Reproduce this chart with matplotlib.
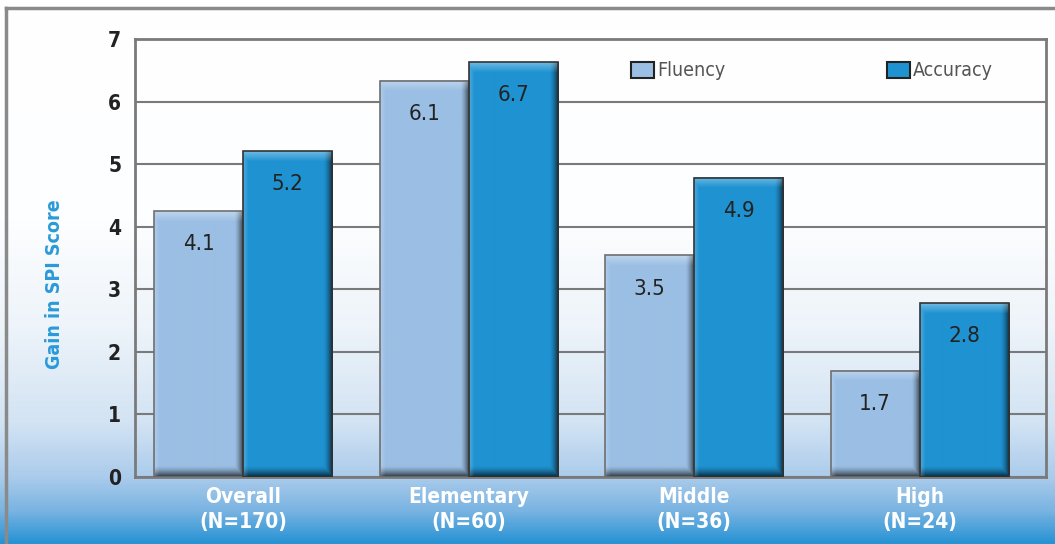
import numpy as np
import matplotlib
matplotlib.use("Agg")
import matplotlib.pyplot as plt
from matplotlib.colors import LinearSegmentedColormap, to_rgb
from matplotlib.patches import Patch
from matplotlib.lines import Line2D
from matplotlib import font_manager

# data
groups = ["Overall\n(N=170)", "Elementary\n(N=60)", "Middle\n(N=36)", "High\n(N=24)"]
fluency = [4.25, 6.33, 3.54, 1.70]        # drawn bar heights
accuracy = [5.21, 6.63, 4.78, 2.78]
fluency_labels = ["4.1", "6.1", "3.5", "1.7"]  # printed values
accuracy_labels = ["5.2", "6.7", "4.9", "2.8"]
yticks = [0, 1, 2, 3, 4, 5, 6, 7]

fl_color = "#9bbfe4"
ac_color = "#1f93d2"
grid_color = "#7a7a7a"

# condensed face
names = {f.name for f in font_manager.fontManager.ttflist}
narrow = "Liberation Sans Narrow" if "Liberation Sans Narrow" in names else "DejaVu Sans"
stretch = "condensed"

W, H, DPI = 1055, 544, 100
fig = plt.figure(figsize=(W / DPI, H / DPI), dpi=DPI)

# background gradient
bg = fig.add_axes([0, 0, 1, 1], zorder=-5)
stops = [(0.0, "#ffffff"), (0.4, "#fdfeff"), (0.6, "#eef4fa"), (0.78, "#d2e3f3"),
         (0.88, "#aacbeb"), (0.94, "#7ab4e2"), (1.0, "#2893d4")]
cmap = LinearSegmentedColormap.from_list("bg", stops)
grad = np.linspace(0, 1, 544)[:, None]
bg.imshow(grad, cmap=cmap, aspect="auto", extent=(0, 1, 0, 1), origin="upper")
bg.set_xlim(0, 1)
bg.set_ylim(0, 1)
bg.axis("off")
# outer frame (top and left)
bg.add_line(Line2D([6 / W, 6 / W], [0, 1 - 8 / H], color="#8a8a8a", lw=2.5))
bg.add_line(Line2D([6 / W, 1], [1 - 8 / H, 1 - 8 / H], color="#8a8a8a", lw=2.5))

ax = fig.add_axes([135 / W, (H - 477) / H, (1046 - 135) / W, (477 - 39) / H])
ax.patch.set_visible(False)

x = np.arange(len(groups))
bw = 0.395
ymax = 7
xlim = (-0.48, 3.56)
px_per_unit = (477 - 39) / ymax
bw_px = int(round(bw * (1046 - 135) / (xlim[1] - xlim[0])))


def shaded(color, wpx, hpx):
    base = np.array(to_rgb(color))
    xx = np.arange(wpx)[None, :]
    yy = np.arange(hpx)[:, None]
    dr = np.clip((xx - (wpx - 10)) / 10, 0, 1)
    db = np.clip((yy - (hpx - 12)) / 12, 0, 1)
    dark = np.maximum(dr, db) ** 1.5 * 0.8
    lt = np.maximum(np.clip(1 - yy / 10, 0, 1) * 0.35, np.clip(1 - xx / 5, 0, 1) * 0.2)
    img = base[None, None, :] * (1 - dark[..., None])
    img = img + (1 - img) * lt[..., None]
    return np.clip(img, 0, 1)


for vals, labs, col, off, ec in [(fluency, fluency_labels, fl_color, -bw / 2, "#6f6f6f"),
                                  (accuracy, accuracy_labels, ac_color, bw / 2, "#333333")]:
    for xi, v, lab in zip(x, vals, labs):
        x0 = xi + off - bw / 2
        hpx = max(int(round(v * px_per_unit)), 2)
        ax.imshow(shaded(col, bw_px, hpx), extent=(x0, x0 + bw, 0, v),
                  aspect="auto", zorder=3, interpolation="bilinear")
        ax.bar(xi + off, v, bw, fill=False, edgecolor=ec, lw=1.2, zorder=4)
        ax.annotate(lab, (xi + off, v), xytext=(0, -24), textcoords="offset points",
                    ha="center", va="center", fontsize=16, color="#222222",
                    family=narrow, stretch=stretch, zorder=5)

ax.set_xlim(*xlim)
ax.set_ylim(0, ymax)
ax.set_yticks(yticks)
ax.set_xticks(x)
ax.set_xticklabels(groups, color="white", fontsize=15, fontweight="bold",
                   family=narrow, stretch=stretch, linespacing=1.35)
for t in ax.get_yticklabels():
    t.set_fontsize(15)
    t.set_fontweight("bold")
    t.set_family(narrow)
    t.set_stretch(stretch)
    t.set_color("#222222")
ax.tick_params(axis="both", length=0)
ax.tick_params(axis="y", pad=10)
ax.tick_params(axis="x", pad=7)
ax.grid(axis="y", color=grid_color, lw=1.5, zorder=1)
ax.set_axisbelow(True)
for s in ax.spines.values():
    s.set_color(grid_color)
    s.set_linewidth(2)

fig.text(55 / W, 1 - 284 / H, "Gain in SPI Score", rotation=90, ha="center", va="center",
         color="#2a9ad8", fontsize=14, fontweight="bold", family=narrow, stretch=stretch)

handles = [Patch(facecolor=fl_color, edgecolor="#222222", lw=1.5, label="Fluency"),
           Patch(facecolor=ac_color, edgecolor="#222222", lw=1.5, label="Accuracy")]
leg = ax.legend(handles=handles, ncol=2, frameon=False, loc="center left",
                bbox_to_anchor=(631 / W, 1 - 71 / H), bbox_transform=fig.transFigure,
                borderpad=0, borderaxespad=0, handlelength=1.2, handleheight=0.9,
                handletextpad=0.15, columnspacing=8.3,
                prop={"family": narrow, "size": 14, "stretch": stretch})
for t in leg.get_texts():
    t.set_color("#555555")

fig.savefig("out.png", dpi=DPI)
